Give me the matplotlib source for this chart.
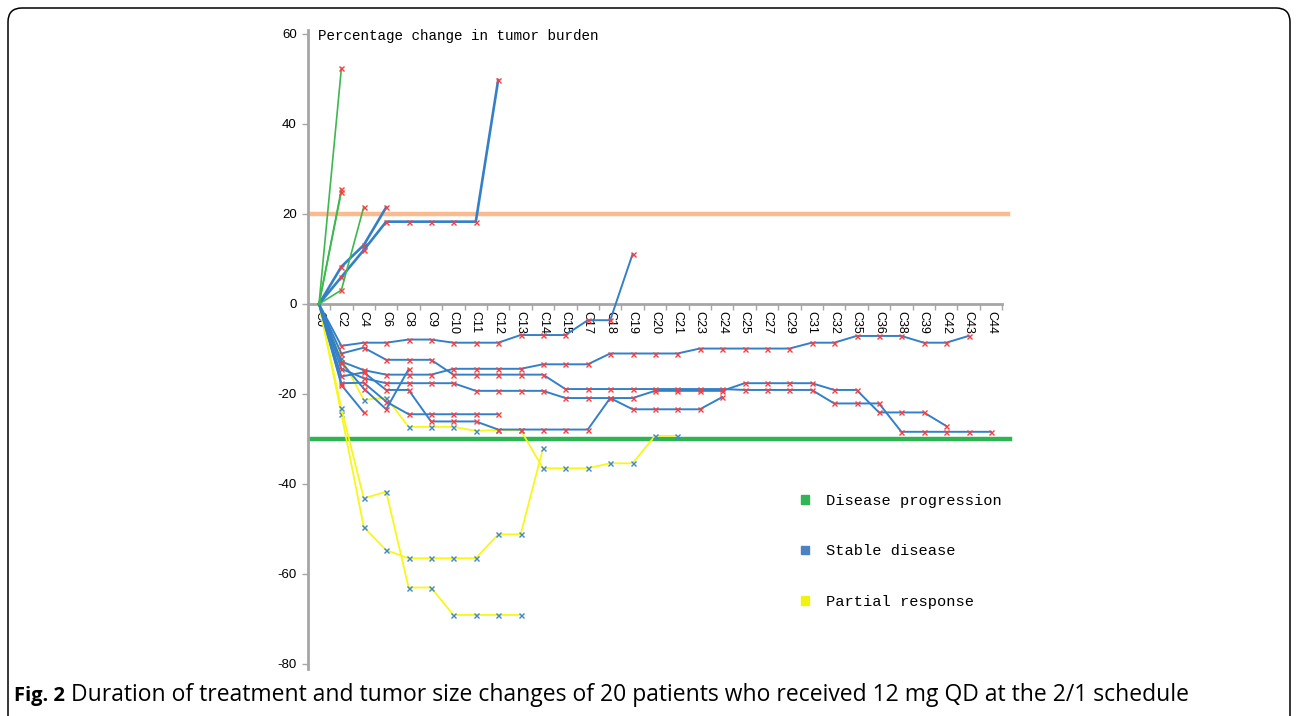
import numpy as np
import matplotlib
matplotlib.use("Agg")
import matplotlib.pyplot as plt
from matplotlib.patches import Patch, FancyBboxPatch
from matplotlib.transforms import IdentityTransform
from matplotlib.font_manager import FontProperties

# ---------------- data ----------------
categories = ["C0", "C2", "C4", "C6", "C8", "C9", "C10", "C11", "C12", "C13", "C14",
              "C15", "C17", "C18", "C19", "C20", "C21", "C23", "C24", "C25", "C27",
              "C29", "C31", "C32", "C35", "C36", "C38", "C39", "C42", "C43", "C44"]
y_ticks = [60, 40, 20, 0, -20, -40, -60, -80]
pd_threshold = 20
pr_threshold = -30

# disease progression (green)
pd_1 = [0, 52.4]
pd_2 = [0, 25.5]
pd_3 = [0, 25.0]
pd_4 = [0, 3.1, 21.6]

# stable disease (blue)
sd_up1 = [0, 8.3, 13.1, 21.5]
sd_up2 = [0, 6.0, 12.0, 18.3, 18.3, 18.3, 18.3, 18.3, 49.8]
sd_a = [0, -9.3, -8.6, -8.6, -7.9, -7.9, -8.6, -8.6, -8.6, -6.9, -6.9, -6.9, -3.6, -3.6, 11.1]
sd_b = [0, -11.0, -9.7, -12.4, -12.4, -12.4, -15.7, -15.7, -15.7, -15.7, -15.7, -18.9, -18.9,
        -18.9, -18.9, -18.9, -18.9, -18.9, -18.9, -19.1, -19.1, -19.1, -19.1, -22.1, -22.1,
        -22.1, -28.4, -28.4, -28.4, -28.4, -28.4]
sd_c = [0, -12.8, -14.7, -15.7, -15.7, -15.7, -14.4, -14.4, -14.4, -14.4, -13.4, -13.4, -13.4,
        -11.0, -11.0, -11.0, -11.0, -9.9, -9.9, -9.9, -9.9, -9.9, -8.6, -8.6, -7.1, -7.1, -7.1,
        -8.6, -8.6, -7.1]
sd_d = [0, -14.4, -16.5, -17.6, -17.6, -17.6, -17.6, -19.3, -19.3, -19.3, -19.3, -20.9, -20.9,
        -20.9, -20.9, -19.3, -19.3, -19.3, -19.3, -17.6, -17.6, -17.6, -17.6, -19.1, -19.1,
        -24.1, -24.1, -24.1, -27.1]
sd_e = [0, -16.1, -15.2, -19.1, -19.1, -26.1, -26.1, -26.1, -27.9, -27.9, -27.9, -27.9, -27.9,
        -20.9, -23.4, -23.4, -23.4, -23.4, -20.7]
sd_f = [0, -17.6, -17.5, -21.7, -24.5, -24.5, -24.5, -24.5, -24.5]
sd_g = [0, -18.0, -24.1]
sd_h = [0, -13.0, -18.8, -23.4, -14.5]

# partial response (yellow)
pr_1 = [0, -12.0, -21.3, -20.8, -27.3, -27.3, -27.3, -28.2, -28.0, -28.0, -36.5, -36.5, -36.5,
        -35.4, -35.4, -29.3, -29.3]
pr_2 = [0, -24.4, -49.6, -54.7, -56.5, -56.5, -56.5, -56.5, -51.2, -51.2, -32.1]
pr_3 = [0, -23.2, -43.2, -41.7, -63.0, -63.0, -69.1, -69.1, -69.1, -69.1]

legend_labels = ["Disease progression", "Stable disease", "Partial response"]
title_text = "Percentage change in tumor burden"
caption_bold = "Fig. 2"
caption_text = "Duration of treatment and tumor size changes of 20 patients who received 12 mg QD at the 2/1 schedule"

# ---------------- style ----------------
GREEN = "#3cb84e"
BLUE = "#3380c8"
YELLOW = "#f7f71a"
GRAY = "#a6a6a6"
RED_M = "#ff3c3c"
BLUE_M = "#3f86cc"
MONO = "Liberation Mono"

W, H = 1296, 716
fig = plt.figure(figsize=(W / 100, H / 100), dpi=100)
fig.patch.set_facecolor("white")

x_left, x_right = 307.8, 1002.2
y_top, y_bot = 29.5, 668.5
ax = fig.add_axes([x_left / W, (H - y_bot) / H, (x_right - x_left) / W, (y_bot - y_top) / H])
ax.set_xlim(-0.5, 30.5)
ax.set_ylim(-81, 61)

# reference lines
ax.axhline(pd_threshold, xmin=0.003, xmax=1.008, color="#fbbb8e", lw=3.2, zorder=1, clip_on=False)
ax.axhline(pr_threshold, xmin=0.003, xmax=1.011, color="#2db553", lw=3.2, zorder=1, clip_on=False)


def draw(vals, color, lw, mcolor, z):
    x = np.arange(len(vals))
    ax.plot(x, vals, color=color, lw=lw, marker="x", ms=3.6, mew=1.0, mec=mcolor,
            markevery=slice(1, None), zorder=z)


for s in [pr_1, pr_2, pr_3]:
    draw(s, YELLOW, 1.3, BLUE_M, 3)
for s in [sd_a, sd_b, sd_c, sd_d, sd_e, sd_f, sd_g, sd_h]:
    draw(s, BLUE, 1.4, RED_M, 4)
for s in [sd_up1, sd_up2]:
    draw(s, BLUE, 1.9, RED_M, 4)
for s in [pd_1, pd_2, pd_3, pd_4]:
    draw(s, GREEN, 1.2, RED_M, 5)

# axes styling
for side in ["top", "right"]:
    ax.spines[side].set_visible(False)
ax.spines["left"].set_color(GRAY)
ax.spines["left"].set_linewidth(2.0)
ax.spines["bottom"].set_position(("data", 0))
ax.spines["bottom"].set_color(GRAY)
ax.spines["bottom"].set_linewidth(2.0)
ax.spines["bottom"].set_zorder(2)

ax.set_xticks(np.arange(len(categories)))
ax.set_xticklabels(categories, rotation=270, fontsize=9, family="Liberation Sans")
ax.set_xticks(np.arange(-0.5, len(categories), 1), minor=True)
ax.tick_params(axis="x", which="major", length=0, pad=5)
ax.tick_params(axis="x", which="minor", length=4, width=1, color=GRAY, direction="out")
ax.set_yticks(y_ticks)
ax.set_yticklabels([str(v) for v in y_ticks], fontsize=9.5, family="Liberation Sans")
ax.tick_params(axis="y", length=4, width=1, color=GRAY, direction="out", pad=4)

# in-plot title
ax.text(0.015, 59.6, title_text, family=MONO, fontsize=10.3, va="center", ha="left",
        transform=ax.get_yaxis_transform())

# legend
handles = [Patch(color="#2fb556"), Patch(color="#4a82c4"), Patch(color="#f2f20f")]
ax.legend(handles, legend_labels, loc="upper left", bbox_to_anchor=(801 / W, 1 - 494 / H),
          bbox_transform=fig.transFigure, frameon=False,
          prop=FontProperties(family=MONO, size=11.1), handlelength=0.5, handleheight=0.5,
          handletextpad=1.1, labelspacing=2.36, borderpad=0, borderaxespad=0)

# caption: bold label then regular text on the same baseline
cap_y = 1 - 701 / H
t1 = fig.text(14 / W, cap_y, caption_bold, family="Open Sans", fontweight="bold",
              fontsize=14.5, va="baseline", ha="left")
fig.canvas.draw()
x_end = t1.get_window_extent().x1
fig.text((x_end + 6) / W, cap_y, caption_text, family="Open Sans", fontsize=16.5,
         va="baseline", ha="left")

# border
border = FancyBboxPatch((8, -30), 1282, H - 8 + 30, boxstyle="round,pad=0,rounding_size=14",
                        transform=IdentityTransform(), fc="none", ec="black", lw=1.1)
fig.add_artist(border)

fig.savefig("out.png", dpi=100)
